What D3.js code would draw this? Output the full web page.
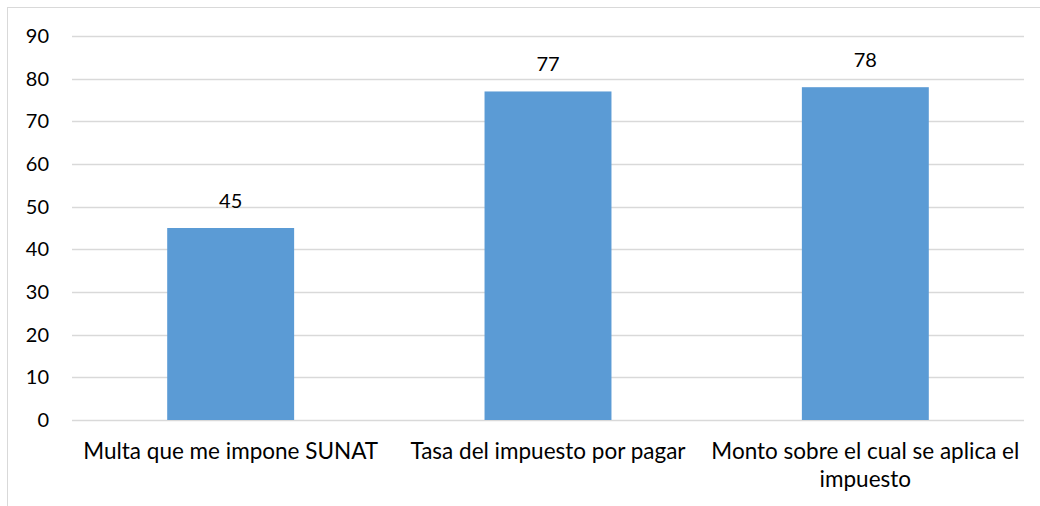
<!DOCTYPE html>
<html>
<head>
<meta charset="utf-8">
<script src="https://cdn.jsdelivr.net/npm/d3@7"></script>
<style>
  body { margin: 0; background: #fff; }
  text { font-family: Lato, "Open Sans", sans-serif; fill: #000; }
</style>
</head>
<body>
<svg id="chart" width="1040" height="506"></svg>
<script>
// data
const categories = ["Multa que me impone SUNAT", "Tasa del impuesto por pagar", "Monto sobre el cual se aplica el impuesto"];
const values = [45, 77, 78];
const yTicks = [0, 10, 20, 30, 40, 50, 60, 70, 80, 90];

const svg = d3.select("#chart"),
  width = +svg.attr("width"),
  height = +svg.attr("height");

const margin = { top: 36, right: 16, bottom: 86, left: 72 };
const numSize = "20px", catSize = "22.5px";

// chart frame
svg.append("rect")
  .attr("x", 7.5).attr("y", 7.5)
  .attr("width", width + 10).attr("height", height + 10)
  .attr("fill", "none").attr("stroke", "#d9d9d9");

const x = d3.scaleBand()
  .domain(categories)
  .range([margin.left, width - margin.right])
  .paddingInner(0.6).paddingOuter(0.3);

const y = d3.scaleLinear()
  .domain([0, 90])
  .range([height - margin.bottom, margin.top]);

// gridlines
svg.append("g")
  .selectAll("line")
  .data(yTicks)
  .enter()
  .append("line")
  .attr("x1", margin.left).attr("x2", width - margin.right)
  .attr("y1", d => Math.round(y(d)) + 0.5).attr("y2", d => Math.round(y(d)) + 0.5)
  .attr("stroke", "#d9d9d9").attr("stroke-width", 1.3);

// y labels
svg.append("g")
  .selectAll("text")
  .data(yTicks)
  .enter()
  .append("text")
  .attr("x", 49).attr("y", d => y(d))
  .attr("dy", "0.35em")
  .attr("text-anchor", "end")
  .style("font-size", numSize)
  .text(d => d);

// bars
svg.append("g")
  .selectAll("rect")
  .data(values)
  .enter()
  .append("rect")
  .attr("x", (d, i) => x(categories[i]))
  .attr("width", x.bandwidth())
  .attr("y", d => y(d))
  .attr("height", d => y(0) - y(d))
  .attr("fill", "#5b9bd5");

// value labels
svg.append("g")
  .selectAll("text")
  .data(values)
  .enter()
  .append("text")
  .attr("x", (d, i) => x(categories[i]) + x.bandwidth() / 2)
  .attr("y", d => y(d) - 20)
  .attr("text-anchor", "middle")
  .style("font-size", numSize)
  .text(d => d);

// category labels, wrapped by hand to band width
const wrapWidth = x.step();
svg.append("g")
  .selectAll("text")
  .data(categories)
  .enter()
  .append("text")
  .attr("x", d => x(d) + x.bandwidth() / 2)
  .attr("y", 459)
  .attr("text-anchor", "middle")
  .style("font-size", catSize)
  .each(function (d) {
    const el = d3.select(this);
    const cx = x(d) + x.bandwidth() / 2;
    const words = d.split(" ");
    let line = [];
    let tspan = el.append("tspan").attr("x", cx);
    words.forEach(w => {
      line.push(w);
      tspan.text(line.join(" "));
      if (tspan.node().getComputedTextLength() > wrapWidth && line.length > 1) {
        line.pop();
        tspan.text(line.join(" "));
        line = [w];
        tspan = el.append("tspan").attr("x", cx).attr("dy", 28).text(w);
      }
    });
  });
</script>
</body>
</html>
